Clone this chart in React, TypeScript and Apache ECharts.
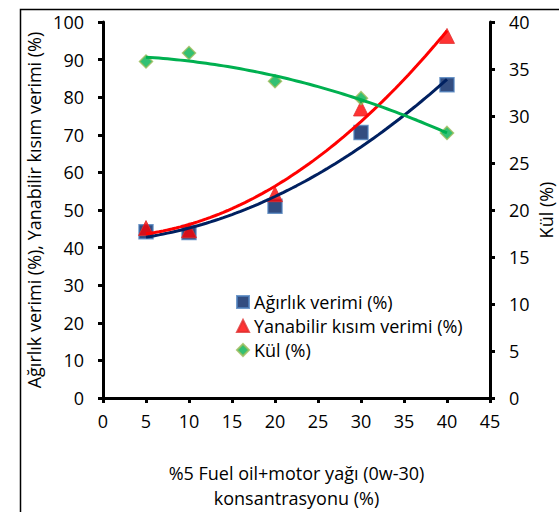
import React, { useEffect, useRef } from "react";
import * as echarts from "echarts";

// Concentration of the fuel oil + motor oil blend (%)
const concentrations = [5, 10, 20, 30, 40];
// Weight yield (%)
const agirlikVerimi = [44.2, 44.0, 51.0, 70.6, 83.3];
// Combustible part yield (%)
const yanabilirVerimi = [45.2, 44.6, 54.2, 77.0, 96.3];
// Ash (%) on the right axis
const kul = [35.8, 36.7, 33.7, 31.9, 28.2];

const xTicks = { min: 0, max: 45, interval: 5 };
const leftTicks = { min: 0, max: 100, interval: 10 };
const rightTicks = { min: 0, max: 40, interval: 5 };

const FONT = "'Open Sans', 'Noto Sans', sans-serif";
const FONT_SIZE = 18;

// Second-order least-squares trendline through the measured points
function quadFit(xs: number[], ys: number[]) {
  let s0 = 0, s1 = 0, s2 = 0, s3 = 0, s4 = 0, t0 = 0, t1 = 0, t2 = 0;
  xs.forEach((x, i) => {
    const y = ys[i];
    s0 += 1; s1 += x; s2 += x * x; s3 += x ** 3; s4 += x ** 4;
    t0 += y; t1 += x * y; t2 += x * x * y;
  });
  const m = [
    [s0, s1, s2, t0],
    [s1, s2, s3, t1],
    [s2, s3, s4, t2],
  ];
  for (let c = 0; c < 3; c++) {
    for (let r = c + 1; r < 3; r++) {
      const f = m[r][c] / m[c][c];
      for (let k = c; k < 4; k++) m[r][k] -= f * m[c][k];
    }
  }
  const coef = [0, 0, 0];
  for (let r = 2; r >= 0; r--) {
    let v = m[r][3];
    for (let k = r + 1; k < 3; k++) v -= m[r][k] * coef[k];
    coef[r] = v / m[r][r];
  }
  const xMin = Math.min(...xs);
  const xMax = Math.max(...xs);
  const pts: number[][] = [];
  const steps = 70;
  for (let i = 0; i <= steps; i++) {
    const x = xMin + ((xMax - xMin) * i) / steps;
    pts.push([x, coef[0] + coef[1] * x + coef[2] * x * x]);
  }
  return pts;
}

const pairs = (ys: number[]) => concentrations.map((x, i) => [x, ys[i]]);

export default function App() {
  const ref = useRef<HTMLDivElement>(null);

  useEffect(() => {
    if (!ref.current) return;
    const chart = echarts.init(ref.current, undefined, { renderer: "svg" });

    const axisLine = { show: true, lineStyle: { color: "#000", width: 3 } };
    const axisTick = { show: true, inside: false, length: 5, lineStyle: { color: "#000", width: 3 } };
    const labelStyle = { color: "#000", fontSize: FONT_SIZE, fontFamily: FONT };

    const trend = (data: number[][], color: string, yAxisIndex = 0) => ({
      type: "line" as const,
      data,
      yAxisIndex,
      showSymbol: false,
      symbol: "none",
      smooth: false,
      silent: true,
      z: 3,
      lineStyle: { color, width: 3 },
      tooltip: { show: false },
    });

    chart.setOption({
      animation: false,
      backgroundColor: "#fff",
      textStyle: { fontFamily: FONT },
      grid: {
        left: 103,
        right: 69,
        top: 22,
        bottom: 114,
        containLabel: false,
        outerBoundsMode: "none",
      },
      graphic: [
        {
          type: "rect",
          left: 18,
          top: 7,
          shape: { width: 700, height: 700 },
          style: { fill: "none", stroke: "#000", lineWidth: 1.5 },
          silent: true,
          z: -1,
        },
      ],
      legend: {
        orient: "vertical",
        left: 236,
        top: 293,
        itemWidth: 12,
        itemHeight: 12,
        itemGap: 6,
        padding: 0,
        textStyle: { color: "#000", fontSize: FONT_SIZE, fontFamily: FONT },
        data: ["Ağırlık verimi (%)", "Yanabilir kısım verimi (%)", "Kül (%)"],
      },
      xAxis: {
        type: "value",
        ...xTicks,
        axisLine,
        axisTick,
        splitLine: { show: false },
        axisLabel: { ...labelStyle, margin: 14 },
        name: "%5 Fuel oil+motor yağı (0w-30)\nkonsantrasyonu (%)",
        nameLocation: "middle",
        nameGap: 62,
        nameMoveOverlap: false,
        nameTextStyle: { ...labelStyle, lineHeight: 25 },
      },
      yAxis: [
        {
          type: "value",
          position: "left",
          ...leftTicks,
          axisLine,
          axisTick,
          splitLine: { show: false },
          axisLabel: { ...labelStyle, margin: 19 },
          name: "Ağırlık verimi (%), Yanabilir kısım verimi (%)",
          nameLocation: "middle",
          nameGap: 60,
          nameMoveOverlap: false,
          nameTextStyle: labelStyle,
        },
        {
          type: "value",
          position: "right",
          ...rightTicks,
          axisLine,
          axisTick,
          splitLine: { show: false },
          axisLabel: { ...labelStyle, margin: 19 },
          name: "Kül (%)",
          nameLocation: "middle",
          nameGap: 46,
          nameMoveOverlap: false,
          nameTextStyle: { ...labelStyle, lineHeight: 19 },
        },
      ],
      series: [
        {
          name: "Ağırlık verimi (%)",
          type: "scatter",
          data: pairs(agirlikVerimi),
          symbol: "rect",
          symbolSize: 14,
          z: 2,
          itemStyle: { color: "#002060", borderColor: "#4f81bd", borderWidth: 1.5 },
        },
        {
          name: "Yanabilir kısım verimi (%)",
          type: "scatter",
          data: pairs(yanabilirVerimi),
          symbol: "triangle",
          symbolSize: 15,
          z: 2,
          itemStyle: { color: "#ff0000", borderColor: "#e03030", borderWidth: 1 },
        },
        {
          name: "Kül (%)",
          type: "scatter",
          yAxisIndex: 1,
          data: pairs(kul),
          symbol: "diamond",
          symbolSize: 13,
          z: 2,
          itemStyle: { color: "#00b050", borderColor: "#9bbb59", borderWidth: 1.5 },
        },
        trend(quadFit(concentrations, agirlikVerimi), "#002060"),
        trend(quadFit(concentrations, yanabilirVerimi), "#ff0000"),
        trend(quadFit(concentrations, kul), "#00b050", 1),
      ],
    });

    return () => chart.dispose();
  }, []);

  return (
    <div
      ref={ref}
      style={{ position: "fixed", left: 0, top: 0, width: 559, height: 512 }}
    />
  );
}
